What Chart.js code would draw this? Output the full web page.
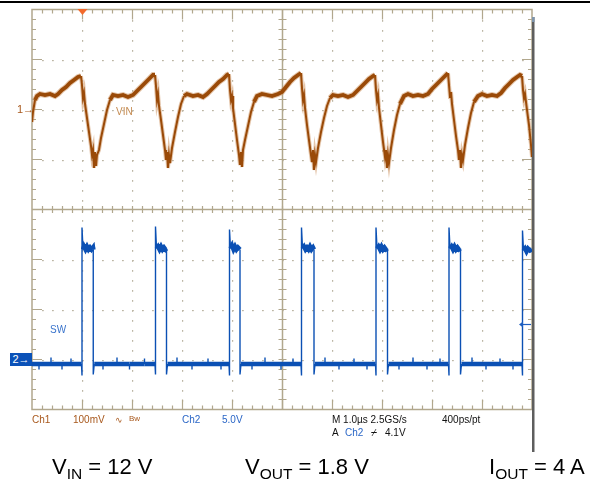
<!DOCTYPE html>
<html>
<head>
<meta charset="utf-8">
<title>VIN ripple and SW node</title>
<script src="https://cdn.jsdelivr.net/npm/chart.js@4.4.1/dist/chart.umd.min.js"></script>
<style>
    body { margin: 0; background: #fff; }
    #wrap { position: relative; width: 599px; height: 480px; font-family: "Liberation Sans", Arial, sans-serif; }
    #wrap canvas { position: absolute; left: 0; top: 0; }
    .lbl { position: absolute; white-space: nowrap; font-size: 10px; line-height: 12px; color: #111; }
    .brown { color: #a8581c; }
    .blue { color: #2a66c6; }
    .big { position: absolute; white-space: nowrap; font-size: 22px; line-height: 24px; color: #000; }
    .big sub { font-size: 15.5px; vertical-align: -5px; line-height: 0; }
    #ch2mark { position: absolute; left: 10px; top: 353px; width: 22px; height: 13px; background: #0b52b8;
               color: #fff; font-size: 11px; line-height: 13px; text-align: center; }
</style>
</head>
<body>
<div id="wrap">
    <canvas id="scope" width="599" height="480"></canvas>

    <div class="lbl brown" style="left:17px; top:103px; font-size:11px;">1&#8594;</div>
    <div id="ch2mark">2&#8594;</div>
    <div class="lbl" style="left:116px; top:106px; color:#c48a50;">VIN</div>
    <div class="lbl" style="left:50px; top:324px; color:#3a74cc;">SW</div>

    <div class="lbl brown" style="left:32px; top:414px;">Ch1</div>
    <div class="lbl brown" style="left:73px; top:414px;">100mV</div>
    <div class="lbl brown" style="left:115px; top:414px; font-size:9px;">&#8767;</div>
    <div class="lbl brown" style="left:129px; top:413px; font-size:8px;">Bw</div>
    <div class="lbl blue" style="left:182px; top:414px;">Ch2</div>
    <div class="lbl blue" style="left:222px; top:414px;">5.0V</div>
    <div class="lbl" style="left:332px; top:414px;">M 1.0µs 2.5GS/s</div>
    <div class="lbl" style="left:442px; top:414px;">400ps/pt</div>
    <div class="lbl" style="left:332px; top:427px;">A</div>
    <div class="lbl blue" style="left:345px; top:427px;">Ch2</div>
    <div class="lbl" style="left:371px; top:427px;">&#9023;</div>
    <div class="lbl" style="left:385px; top:427px;">4.1V</div>

    <div class="big" style="left:52px; top:455px;">V<sub>IN</sub> = 12 V</div>
    <div class="big" style="left:245px; top:455px;">V<sub>OUT</sub> = 1.8 V</div>
    <div class="big" style="left:489px; top:455px;">I<sub>OUT</sub> = 4 A</div>
</div>

<script>
// time of each major division (µs, trigger at 0)
const timeDivs = [-1, 0, 1, 2, 3, 4, 5, 6, 7, 8, 9];
// channel 1: 100 mV/div, channel 2: 5 V/div
const ch1Divs = [-600, -500, -400, -300, -200, -100, 0, 100, 200];
const ch2Divs = [-5, 0, 5, 10, 15, 20, 25, 30, 35];
const ch2TriggerLevel = 3.6;

// Ch1, input ripple (µs, mV)
const vinTrace = [
    [-1.00, -25], [-0.98, -5], [-0.94, 19], [-0.90, 27], [-0.84, 31], [-0.74, 29], [-0.64, 31], [-0.54, 27],
    [-0.48, 31], [-0.40, 39], [-0.32, 45], [-0.24, 53], [-0.16, 59], [-0.08, 65], [-0.02, 67],
    [0.00, 49], [0.02, 23], [0.04, 33], [0.06, 11], [0.10, -17], [0.14, -45], [0.18, -73], [0.20, -91],
    [0.22, -81], [0.24, -117], [0.26, -85], [0.28, -113], [0.30, -91], [0.34, -81], [0.38, -57], [0.44, -29],
    [0.50, -1], [0.56, 19], [0.62, 29], [0.72, 27], [0.82, 29], [0.92, 25], [1.02, 29], [1.10, 37],
    [1.18, 45], [1.26, 53], [1.34, 61], [1.42, 69], [1.46, 69],
    [1.48, 47], [1.50, 19], [1.52, 31], [1.54, 7], [1.58, -21], [1.62, -51], [1.66, -81], [1.68, -101],
    [1.70, -85], [1.72, -117], [1.74, -91], [1.76, -107], [1.80, -77], [1.86, -45], [1.92, -15], [1.98, 11],
    [2.04, 27], [2.10, 31], [2.22, 27], [2.32, 29], [2.42, 25], [2.50, 31], [2.58, 39], [2.66, 47],
    [2.74, 55], [2.82, 61], [2.90, 69], [2.94, 71],
    [2.96, 39], [2.98, 19], [3.00, 27], [3.02, 3], [3.06, -29], [3.10, -61], [3.14, -91], [3.16, -111],
    [3.18, -85], [3.20, -115], [3.22, -81], [3.26, -61], [3.32, -33], [3.38, -5], [3.44, 15], [3.50, 27],
    [3.60, 31], [3.70, 29], [3.80, 27], [3.92, 31], [4.00, 35], [4.08, 45], [4.16, 55], [4.24, 63],
    [4.32, 69], [4.38, 73],
    [4.40, 43], [4.42, 19], [4.44, 29], [4.46, 3], [4.50, -31], [4.54, -61], [4.58, -91], [4.60, -105],
    [4.62, -81], [4.64, -121], [4.66, -91], [4.68, -105], [4.72, -77], [4.78, -45], [4.84, -17], [4.90, 7],
    [4.96, 23], [5.02, 29], [5.12, 27], [5.22, 29], [5.32, 25], [5.42, 29], [5.50, 37], [5.58, 45],
    [5.66, 53], [5.74, 61], [5.82, 67], [5.86, 69],
    [5.88, 39], [5.90, 19], [5.92, 29], [5.94, 3], [5.98, -31], [6.02, -65], [6.06, -95], [6.08, -81],
    [6.10, -117], [6.12, -91], [6.14, -107], [6.18, -77], [6.24, -41], [6.30, -11], [6.36, 11], [6.44, 27],
    [6.52, 31], [6.62, 27], [6.72, 29], [6.82, 27], [6.92, 31], [7.00, 41], [7.08, 49], [7.16, 57],
    [7.24, 65], [7.32, 73],
    [7.34, 49], [7.36, 25], [7.38, 35], [7.40, 11], [7.44, -21], [7.48, -53], [7.52, -81], [7.54, -101],
    [7.56, -81], [7.58, -117], [7.60, -91], [7.62, -101], [7.66, -71], [7.72, -37], [7.78, -7], [7.84, 15],
    [7.92, 27], [8.00, 31], [8.10, 27], [8.20, 29], [8.30, 27], [8.38, 33], [8.46, 43], [8.54, 51],
    [8.62, 59], [8.70, 65], [8.76, 69], [8.80, 67],
    [8.82, 39], [8.84, 23], [8.86, 31], [8.90, -1], [8.94, -31], [8.98, -71], [9.00, -95]
];

// Ch2, switch node (µs, V)
const swTrace = [
    [-1.00, -0.45], [-0.86, -0.45], [-0.86, -1.0], [-0.86, -0.45], [-0.62, -0.45], [-0.62, 0.2], [-0.62, -0.45],
    [-0.40, -0.45], [-0.40, -1.0], [-0.40, -0.45], [-0.22, -0.45], [-0.22, 0.1], [-0.22, -0.45], [-0.01, -0.45],
    [0.00, -1.6], [0.00, 13.2], [0.02, 11.0], [0.04, 11.3], [0.07, 11.0], [0.10, 11.3], [0.13, 11.0],
    [0.16, 11.2], [0.19, 11.0], [0.22, 11.2], [0.225, 11.0], [0.225, -1.5], [0.245, -0.45],
    [0.42, -0.45], [0.42, -1.0], [0.42, -0.45], [0.70, -0.45], [0.70, 0.2], [0.70, -0.45],
    [0.95, -0.45], [0.95, -1.0], [0.95, -0.45], [1.25, -0.45], [1.25, 0.1], [1.25, -0.45], [1.46, -0.45],
    [1.47, -1.5], [1.47, 13.3], [1.49, 11.1], [1.52, 11.3], [1.55, 11.0], [1.58, 11.3], [1.61, 11.0],
    [1.64, 11.2], [1.67, 11.0], [1.69, 11.1], [1.69, -1.5], [1.71, -0.45],
    [1.90, -0.45], [1.90, 0.2], [1.90, -0.45], [2.20, -0.45], [2.20, -1.0], [2.20, -0.45],
    [2.52, -0.45], [2.52, 0.1], [2.52, -0.45], [2.78, -0.45], [2.78, -1.0], [2.78, -0.45], [2.94, -0.45],
    [2.95, -1.6], [2.95, 13.0], [2.97, 11.1], [3.00, 11.4], [3.03, 11.0], [3.06, 11.3], [3.09, 11.0],
    [3.12, 11.2], [3.16, 11.0], [3.16, -1.5], [3.18, -0.45],
    [3.40, -0.45], [3.40, -1.0], [3.40, -0.45], [3.66, -0.45], [3.66, 0.2], [3.66, -0.45],
    [3.98, -0.45], [3.98, -1.0], [3.98, -0.45], [4.22, -0.45], [4.22, 0.1], [4.22, -0.45], [4.38, -0.45],
    [4.39, -1.6], [4.39, 13.2], [4.41, 11.1], [4.44, 11.3], [4.47, 11.0], [4.50, 11.2], [4.53, 11.0],
    [4.56, 11.3], [4.59, 11.0], [4.62, 11.2], [4.64, 11.0], [4.64, -1.5], [4.66, -0.45],
    [4.86, -0.45], [4.86, 0.2], [4.86, -0.45], [5.14, -0.45], [5.14, -1.0], [5.14, -0.45],
    [5.44, -0.45], [5.44, 0.1], [5.44, -0.45], [5.70, -0.45], [5.70, -1.0], [5.70, -0.45], [5.87, -0.45],
    [5.88, -1.6], [5.88, 13.2], [5.90, 11.1], [5.93, 11.3], [5.96, 11.0], [5.99, 11.3], [6.02, 11.0],
    [6.05, 11.2], [6.08, 11.0], [6.11, 11.1], [6.11, -1.5], [6.13, -0.45],
    [6.34, -0.45], [6.34, -1.0], [6.34, -0.45], [6.62, -0.45], [6.62, 0.2], [6.62, -0.45],
    [6.90, -0.45], [6.90, -1.0], [6.90, -0.45], [7.16, -0.45], [7.16, 0.1], [7.16, -0.45], [7.33, -0.45],
    [7.34, -1.6], [7.34, 13.2], [7.36, 11.1], [7.39, 11.3], [7.42, 11.0], [7.45, 11.3], [7.48, 11.0],
    [7.51, 11.2], [7.54, 11.0], [7.57, 11.1], [7.57, -1.5], [7.59, -0.45],
    [7.80, -0.45], [7.80, 0.2], [7.80, -0.45], [8.08, -0.45], [8.08, -1.0], [8.08, -0.45],
    [8.36, -0.45], [8.36, 0.1], [8.36, -0.45], [8.62, -0.45], [8.62, -1.0], [8.62, -0.45], [8.80, -0.45],
    [8.81, -1.6], [8.81, 12.9], [8.83, 10.9], [8.86, 11.1], [8.89, 10.8], [8.92, 11.1], [8.96, 10.9], [9.00, 11.0]
];

const toPoints = trace => trace.map(p => ({ x: p[0], y: p[1] }));

// scope screen: tan graticule, dotted division lines, ticked centre cross
const graticule = {
    id: 'graticule',
    beforeDatasetsDraw(chart) {
        const { ctx, chartArea: a, scales } = chart;
        const cols = timeDivs.map(v => Math.round(scales.x.getPixelForValue(v)));
        const rows = ch2Divs.map(v => Math.round(scales.ch2.getPixelForValue(v)) - 0.5);
        const sx = (cols[1] - cols[0]) / 5;
        const sy = (rows[0] - rows[1]) / 5;
        const cx = cols[5], cy = rows[4];
        ctx.save();

        // dots on the division lines
        ctx.fillStyle = '#bcb6a5';
        cols.slice(1, -1).forEach(px => {
            if (px === cx) return;
            for (let y = a.top + sy; y < a.bottom - 1; y += sy) ctx.fillRect(px, Math.round(y), 1.2, 1.8);
        });
        rows.slice(1, -1).forEach(py => {
            if (py === cy) return;
            for (let x = a.left + sx; x < a.right - 1; x += sx) ctx.fillRect(Math.round(x), Math.round(py), 1.8, 1.2);
        });

        ctx.strokeStyle = '#b1a78d';
        ctx.lineWidth = 1.5;
        ctx.strokeRect(a.left, a.top, a.right - a.left, a.bottom - a.top);

        ctx.beginPath();
        ctx.moveTo(cx + 0.5, a.top); ctx.lineTo(cx + 0.5, a.bottom);
        ctx.moveTo(a.left, cy); ctx.lineTo(a.right, cy);
        ctx.stroke();

        ctx.lineWidth = 1.2;
        ctx.beginPath();
        // border ticks
        for (let i = 1; i < 50; i++) {
            const x = Math.round(a.left + i * sx) + 0.5;
            const len = i % 5 === 0 ? 10 : 4;
            ctx.moveTo(x, a.top); ctx.lineTo(x, a.top + len);
            ctx.moveTo(x, a.bottom); ctx.lineTo(x, a.bottom - len);
            ctx.moveTo(x, cy - 3.5); ctx.lineTo(x, cy + 3.5);
        }
        for (let i = 1; i < 40; i++) {
            const y = Math.round(a.top + i * sy) - 0.5;
            const len = i % 5 === 0 ? 10 : 4;
            ctx.moveTo(a.left, y); ctx.lineTo(a.left + len, y);
            ctx.moveTo(a.right, y); ctx.lineTo(a.right - len, y);
            ctx.moveTo(cx + 0.5 - 4, y); ctx.lineTo(cx + 0.5 + 4, y);
        }
        ctx.stroke();
        ctx.restore();
    },
    afterDraw(chart) {
        const { ctx, chartArea: a, scales } = chart;
        ctx.save();
        // top rule and right edge of the screen
        ctx.fillStyle = '#000';
        ctx.fillRect(0, 1, 590, 2);
        ctx.fillStyle = '#5e5e5e';
        ctx.fillRect(a.right, 17, 2.5, 435);
        ctx.fillStyle = '#7e95ad';
        ctx.fillRect(a.right, 17, 2.5, 5);

        // trigger position marker
        const tx = scales.x.getPixelForValue(0) + 0.5;
        ctx.fillStyle = '#f36a2c';
        ctx.beginPath();
        ctx.moveTo(tx - 5, a.top - 0.5);
        ctx.lineTo(tx + 5, a.top - 0.5);
        ctx.lineTo(tx, a.top + 5.5);
        ctx.closePath();
        ctx.fill();

        // trigger level arrow on ch2
        const ty = Math.round(scales.ch2.getPixelForValue(ch2TriggerLevel)) + 0.5;
        ctx.strokeStyle = '#1e5fc0';
        ctx.fillStyle = '#1e5fc0';
        ctx.lineWidth = 1.2;
        ctx.beginPath();
        ctx.moveTo(a.right - 11, ty); ctx.lineTo(a.right - 1, ty);
        ctx.stroke();
        ctx.beginPath();
        ctx.moveTo(a.right - 13, ty);
        ctx.lineTo(a.right - 9, ty - 3);
        ctx.lineTo(a.right - 9, ty + 3);
        ctx.closePath();
        ctx.fill();
        ctx.restore();
    }
};

const steepVin = c => Math.abs(c.p1.y - c.p0.y) > 2 * Math.abs(c.p1.x - c.p0.x) ? 2 : 3.8;
const haloVin = c => steepVin(c) + 2;
const steepSw = c => Math.abs(c.p1.y - c.p0.y) >= 5 ? 1.4 : 4.5;

new Chart(document.getElementById('scope'), {
    type: 'line',
    data: {
        datasets: [
            {
                label: 'VIN',
                data: toPoints(vinTrace),
                yAxisID: 'ch1',
                borderColor: '#9a4a08',
                borderWidth: 3.8,
                segment: { borderWidth: steepVin },
                pointRadius: 0,
                tension: 0
            },
            {
                // persistence glow around the ch1 trace
                label: 'VIN glow',
                data: toPoints(vinTrace),
                yAxisID: 'ch1',
                borderColor: 'rgba(205, 150, 100, 0.55)',
                borderWidth: 5.8,
                segment: { borderWidth: haloVin },
                pointRadius: 0,
                tension: 0,
                order: 5
            },
            {
                label: 'SW',
                data: toPoints(swTrace),
                yAxisID: 'ch2',
                borderColor: '#0b50b4',
                borderWidth: 4.5,
                segment: { borderWidth: steepSw },
                borderJoinStyle: 'miter',
                pointRadius: 0,
                tension: 0
            }
        ]
    },
    options: {
        responsive: false,
        animation: false,
        devicePixelRatio: 1,
        layout: { padding: { left: 32, right: 67, top: 9.5, bottom: 70.5 } },
        plugins: { legend: { display: false }, tooltip: { enabled: false } },
        scales: {
            x: { type: 'linear', min: timeDivs[0], max: timeDivs[timeDivs.length - 1], display: false },
            ch1: { type: 'linear', min: ch1Divs[0], max: ch1Divs[ch1Divs.length - 1], display: false },
            ch2: { type: 'linear', min: ch2Divs[0], max: ch2Divs[ch2Divs.length - 1], display: false }
        }
    },
    plugins: [graticule]
});
</script>
</body>
</html>
